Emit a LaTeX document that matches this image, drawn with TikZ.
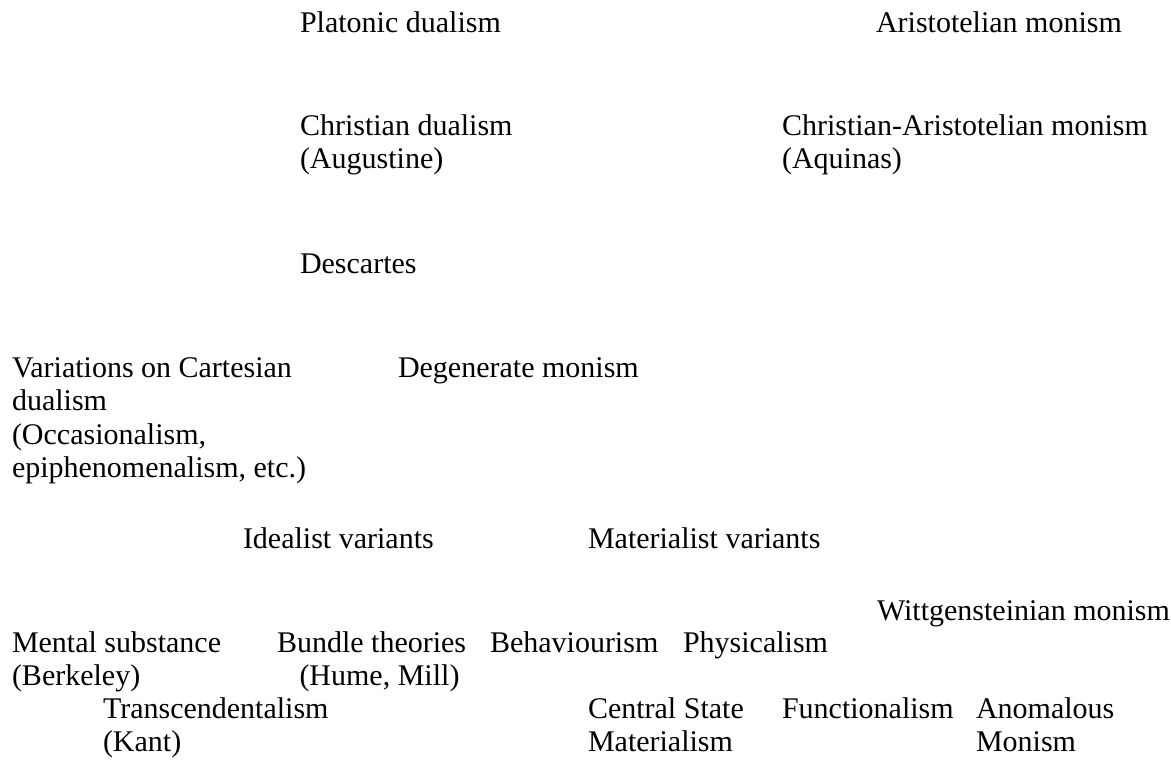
\documentclass[tikz,border=0pt]{standalone}
\usepackage{fontspec}
\setmainfont{Liberation Serif}
\usepackage{tikz}
\usetikzlibrary{positioning}
\tikzstyle{school} = [inner sep=0pt, outer sep=0pt, anchor=base west, align=left, font=\fontsize{12}{13.4}\selectfont]

\begin{document}
\begin{tikzpicture}[x=0.4pt, y=-0.4pt]
\useasboundingbox (0,0) rectangle (1171,762);

% --- Ancient and medieval ---
\node (Plato) [school] at (300,32) {Platonic dualism};
\node (Aristotle) [school] at (876,32) {Aristotelian monism};
\node (Augustine) [school] at (300,168.5) {Christian dualism\\(Augustine)};
\node (Aquinas) [school] at (782,168.5) {Christian-Aristotelian monism\\(Aquinas)};

% --- Descartes and after ---
\node (Descartes) [school] at (300,273) {Descartes};
\node (Variations) [school] at (12,477.5) {Variations on Cartesian\\dualism\\(Occasionalism,\\epiphenomenalism, etc.)};
\node (Degenerate) [school] at (398,377) {Degenerate monism};

% --- Variants ---
\node (Idealist) [school] at (243,548) {Idealist variants};
\node (Materialist) [school] at (588,548) {Materialist variants};
\node (Wittgenstein) [school] at (877,620) {Wittgensteinian monism};

% --- Modern theories ---
\node (Berkeley) [school] at (12,685.5) {Mental substance\\(Berkeley)};
\node (Bundle) [school] at (277,685.5) {Bundle theories\\\hspace*{9pt}(Hume, Mill)};
\node (Behaviour) [school] at (490,652) {Behaviourism};
\node (Physical) [school] at (683,652) {Physicalism};
\node (Kant) [school] at (103,751.5) {Transcendentalism\\(Kant)};
\node (Central) [school] at (588,751.5) {Central State\\Materialism};
\node (Function) [school] at (782,718) {Functionalism};
\node (Anomalous) [school] at (976,751.5) {Anomalous\\Monism};

\end{tikzpicture}
\end{document}
